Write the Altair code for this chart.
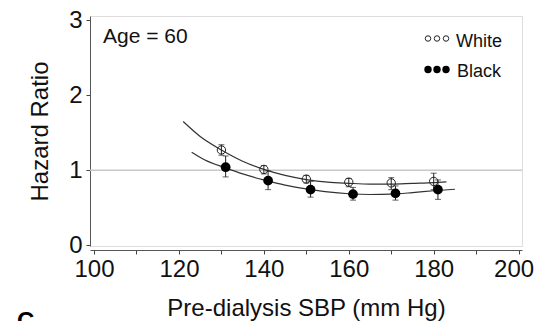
import altair as alt
import pandas as pd

# ---- data ----
white_x = [130, 140, 150, 160, 170, 180]
white_hr = [1.27, 1.01, 0.88, 0.84, 0.83, 0.85]
white_lo = [1.20, 0.95, 0.83, 0.78, 0.74, 0.74]
white_hi = [1.34, 1.06, 0.93, 0.89, 0.90, 0.96]

black_x = [131, 141, 151, 161, 171, 181]
black_hr = [1.04, 0.86, 0.74, 0.68, 0.69, 0.74]
black_lo = [0.91, 0.74, 0.64, 0.60, 0.60, 0.61]
black_hi = [1.19, 0.99, 0.85, 0.77, 0.79, 0.87]

white_curve_x = [121, 125, 130, 135, 140, 145, 150, 155, 160, 165, 170, 175, 180, 183]
white_curve_y = [1.65, 1.45, 1.27, 1.12, 1.01, 0.93, 0.875, 0.84, 0.825, 0.815, 0.815, 0.825, 0.835, 0.845]
black_curve_x = [123, 126, 131, 135, 140, 145, 150, 155, 160, 165, 170, 175, 180, 185]
black_curve_y = [1.24, 1.14, 1.03, 0.95, 0.87, 0.80, 0.75, 0.71, 0.685, 0.675, 0.68, 0.70, 0.725, 0.745]

x_ticks = [100, 110, 120, 130, 140, 150, 160, 170, 180, 190, 200]
y_ticks = [0, 0.5, 1, 1.5, 2, 2.5, 3]
ref_value = [1]

FONT = "Liberation Sans"
W, H = 432, 230

white = pd.DataFrame({"x": white_x, "hr": white_hr, "lo": white_lo, "hi": white_hi})
black = pd.DataFrame({"x": black_x, "hr": black_hr, "lo": black_lo, "hi": black_hi})
wc = pd.DataFrame({"x": white_curve_x, "y": white_curve_y})
bc = pd.DataFrame({"x": black_curve_x, "y": black_curve_y})
ref = pd.DataFrame({"y": ref_value})

xs = alt.Scale(domain=[99.05, 200.8], nice=False, zero=False)
ys = alt.Scale(domain=[-0.013, 3.06], nice=False, zero=False)

x_axis = alt.Axis(
    values=x_ticks,
    labelExpr="datum.value % 20 == 0 ? datum.label : ''",
    labelOffset={"condition": {"test": "datum.value == 200", "value": -5}, "value": 0},
    title="Pre-dialysis SBP (mm Hg)",
    offset=4, tickSize=4, tickColor="#444", domainColor="#555",
    labelFont=FONT, labelFontSize=24, labelColor="#111", labelPadding=3,
    titleFont=FONT, titleFontSize=24, titleFontWeight="normal", titleColor="#111",
    titlePadding=15, grid=False, labelFlush=False, labelOverlap=False,
)
y_axis = alt.Axis(
    values=y_ticks, format=".0f",
    labelExpr="datum.value % 1 == 0 ? datum.label : ''",
    title="Hazard Ratio",
    tickSize=4, tickColor="#444", domainColor="#555",
    labelFont=FONT, labelFontSize=24, labelColor="#111", labelPadding=4,
    titleFont=FONT, titleFontSize=24, titleFontWeight="normal", titleColor="#111",
    titlePadding=16, grid=False, labelFlush=False, labelOverlap=False,
)

refline = alt.Chart(ref).mark_rule(color="#c8c8c8", strokeWidth=1.5).encode(
    y=alt.Y("y:Q", scale=ys, axis=y_axis),
    x=alt.value(0), x2=alt.value(W),
)

curve_w = alt.Chart(wc).mark_line(color="#333", strokeWidth=1.2, interpolate="monotone").encode(
    x=alt.X("x:Q", scale=xs, axis=x_axis), y=alt.Y("y:Q", scale=ys)
)
curve_b = alt.Chart(bc).mark_line(color="#333", strokeWidth=1.2, interpolate="monotone").encode(
    x=alt.X("x:Q", scale=xs), y=alt.Y("y:Q", scale=ys)
)

def errbars(df):
    base = alt.Chart(df)
    bar = base.mark_rule(color="#222", strokeWidth=1).encode(
        x=alt.X("x:Q", scale=xs), y=alt.Y("lo:Q", scale=ys), y2="hi:Q"
    )
    cap_lo = base.mark_tick(color="#222", size=6, thickness=1, orient="horizontal").encode(
        x=alt.X("x:Q", scale=xs), y=alt.Y("lo:Q", scale=ys)
    )
    cap_hi = base.mark_tick(color="#222", size=6, thickness=1, orient="horizontal").encode(
        x=alt.X("x:Q", scale=xs), y=alt.Y("hi:Q", scale=ys)
    )
    return bar + cap_lo + cap_hi

pts_w = alt.Chart(white).mark_point(shape="circle", filled=False, color="#222", size=70, strokeWidth=1, opacity=1).encode(
    x=alt.X("x:Q", scale=xs), y=alt.Y("hr:Q", scale=ys)
)
pts_b = alt.Chart(black).mark_point(shape="circle", filled=True, color="#000", size=95, opacity=1).encode(
    x=alt.X("x:Q", scale=xs), y=alt.Y("hr:Q", scale=ys)
)

age = alt.Chart(ref).mark_text(text="Age = 60", font=FONT, fontSize=21, align="left", baseline="alphabetic", color="#111").encode(
    x=alt.value(13), y=alt.value(27)
)

panel = alt.Chart(ref).mark_text(text="C", font=FONT, fontSize=24, fontWeight="bold", align="left", baseline="alphabetic", color="#000").encode(
    x=alt.value(-73), y=alt.value(313)
)

legend_layers = []
for dx in [338, 347, 356]:
    legend_layers.append(
        alt.Chart(ref).mark_point(shape="circle", filled=False, color="#222", size=30, strokeWidth=1, opacity=1).encode(
            x=alt.value(dx), y=alt.value(22.5))
    )
    legend_layers.append(
        alt.Chart(ref).mark_point(shape="circle", filled=True, color="#000", size=55, opacity=1).encode(
            x=alt.value(dx), y=alt.value(53.5))
    )
leg_w = alt.Chart(ref).mark_text(text="White", font=FONT, fontSize=18, align="left", baseline="alphabetic", color="#111").encode(
    x=alt.value(366), y=alt.value(31))
leg_b = alt.Chart(ref).mark_text(text="Black", font=FONT, fontSize=18, align="left", baseline="alphabetic", color="#111").encode(
    x=alt.value(367), y=alt.value(61))

chart = alt.layer(
    refline, curve_w, curve_b, errbars(white), errbars(black), pts_w, pts_b,
    age, panel, leg_w, leg_b, *legend_layers
).properties(
    width=W, height=H,
    autosize=alt.AutoSizeParams(type="none"),
    padding={"left": 82, "top": 8, "right": 12, "bottom": 75},
).configure_view(
    stroke="#888", strokeWidth=1.5
).configure(background="white")

chart.save("out.html", embed_options={"renderer": "svg", "actions": False})
